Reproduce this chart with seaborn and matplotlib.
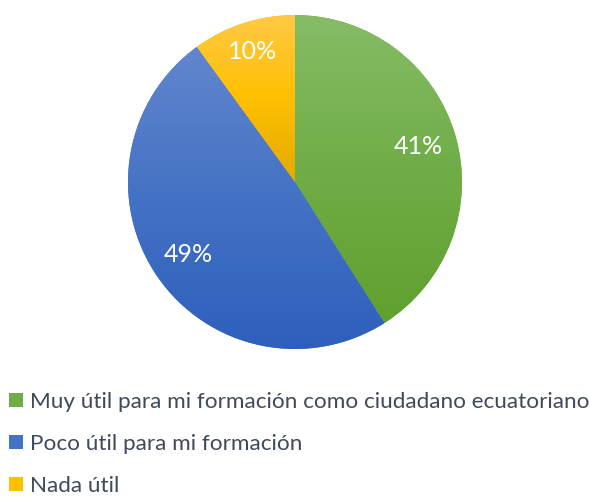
import numpy as np
import matplotlib
matplotlib.use("Agg")
import matplotlib.pyplot as plt
import seaborn as sns
from matplotlib.colors import LinearSegmentedColormap, to_rgb
from matplotlib.patches import Patch

categories = ["Muy útil para mi formación como ciudadano ecuatoriano",
              "Poco útil para mi formación",
              "Nada útil"]
values = [41, 49, 10]
labels = ["41%", "49%", "10%"]
base_colors = ["#70AD47", "#4472C4", "#FFC000"]
top_colors = ["#86BC66", "#6286CE", "#FFC945"]
bot_colors = ["#60A02F", "#2E5FBC", "#E2AA00"]

sns.set_theme(style="white")
plt.rcParams['font.family'] = ['Lato', 'DejaVu Sans']

fig = plt.figure(figsize=(5.9, 4.98), dpi=100)
ax = fig.add_axes([128/590, (498-349)/498, 334/590, 334/498])

wedges, texts = ax.pie(
    values, colors=base_colors, startangle=90, counterclock=False,
    radius=1, wedgeprops=dict(linewidth=0))

# place value labels
dists = [0.77, 0.77, 0.82]
for w, lab, d in zip(wedges, labels, dists):
    ang = np.deg2rad((w.theta1 + w.theta2) / 2)
    ax.text(d * np.cos(ang), d * np.sin(ang), lab, ha="center", va="center",
            color="white", fontsize=18)

# vertical gradients clipped to each wedge
for w, c_top, c_mid, c_bot in zip(wedges, top_colors, base_colors, bot_colors):
    cmap = LinearSegmentedColormap.from_list("g", [to_rgb(c_bot), to_rgb(c_mid), to_rgb(c_top)])
    grad = np.linspace(0, 1, 256).reshape(-1, 1)
    ext = w.get_path().get_extents(w.get_patch_transform())
    im = ax.imshow(grad, cmap=cmap, extent=(ext.x0, ext.x1, ext.y0, ext.y1),
                   origin="lower", aspect="auto", zorder=1.5)
    im.set_clip_path(w)

ax.set_xlim(-1, 1)
ax.set_ylim(-1, 1)
ax.set_aspect("equal")
ax.axis("off")

handles = [Patch(facecolor=c, edgecolor="none") for c in base_colors]
fig.legend(handles, categories, loc="upper left", bbox_to_anchor=(0.0, 1 - 383/498),
           frameon=False, fontsize=16.2, labelcolor="#404A5A",
           handlelength=0.62, handleheight=0.62, handletextpad=0.3,
           labelspacing=0.98, borderaxespad=0, borderpad=0.4)

fig.savefig("out.png", dpi=100, facecolor="white")
